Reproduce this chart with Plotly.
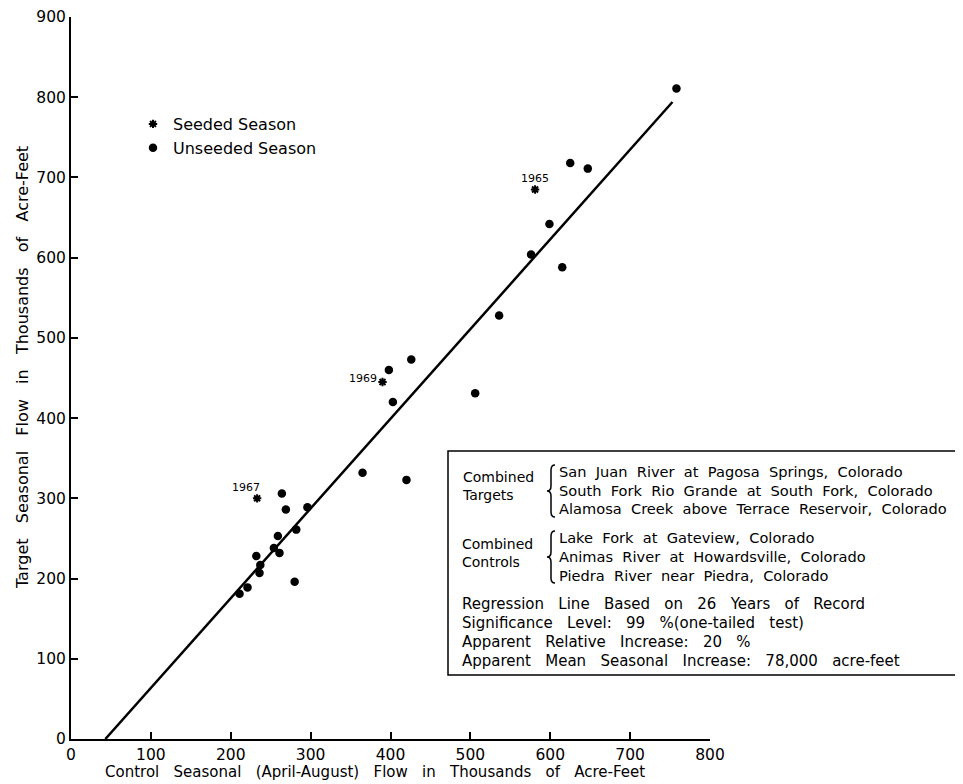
import plotly.graph_objects as go

# ---------------- data (thousands of acre-feet) ----------------
unseeded_x = [211, 221, 236, 237, 232, 254, 261, 259, 282, 269, 264, 296, 280,
              365, 420, 403, 398, 426, 506, 536, 576, 615, 599, 625, 647, 758]
unseeded_y = [181, 189, 207, 217, 228, 238, 232, 253, 261, 286, 306, 289, 196,
              332, 323, 420, 460, 473, 431, 528, 604, 588, 642, 718, 711, 811]

seeded_years = ["1967", "1969", "1965"]
seeded_x = [233, 390, 581]
seeded_y = [300, 445, 685]

regression_x = [43, 753]
regression_y = [0, 794]

x_ticks = [0, 100, 200, 300, 400, 500, 600, 700, 800]
y_ticks = [0, 100, 200, 300, 400, 500, 600, 700, 800, 900]

targets = ["San Juan River at Pagosa Springs, Colorado",
           "South Fork Rio Grande at South Fork, Colorado",
           "Alamosa Creek above Terrace Reservoir, Colorado"]
controls = ["Lake Fork at Gateview, Colorado",
            "Animas River at Howardsville, Colorado",
            "Piedra River near Piedra, Colorado"]
notes = ["Regression Line Based on 26 Years of Record",
         "Significance Level: 99 %(one-tailed test)",
         "Apparent Relative Increase: 20 %",
         "Apparent Mean Seasonal Increase: 78,000 acre-feet"]

# ---------------- layout helpers ----------------
OFF = 8                      # page body margin of the written html
W, H = 963 - OFF, 784 - OFF
L, T = 71 - OFF, 17 - OFF
R, B = 253, 45
PW, PH = W - L - R, H - T - B
FONT = "DejaVu Sans"


def px(x):
    """reference-pixel x -> paper coordinate"""
    return (x - OFF - L) / PW


def py(y):
    """reference-pixel y -> paper coordinate"""
    return (H - B - (y - OFF)) / PH


def spaced(s, extra):
    return s.replace(" ", "\u00a0" * extra + " ")


fig = go.Figure()

fig.add_trace(go.Scatter(
    x=regression_x, y=regression_y, mode="lines",
    line=dict(color="black", width=2.5), showlegend=False, hoverinfo="skip"))

fig.add_trace(go.Scatter(
    x=seeded_x, y=seeded_y, mode="markers", name="Seeded Season",
    marker=dict(symbol="asterisk", size=7, color="black",
                line=dict(color="black", width=2))))

fig.add_trace(go.Scatter(
    x=unseeded_x, y=unseeded_y, mode="markers", name="Unseeded Season",
    marker=dict(symbol="circle", size=8.5, color="black")))

annotations = []
year_pos = {"1967": dict(xanchor="center", yanchor="middle", xshift=-11, yshift=11),
            "1969": dict(xanchor="right", yanchor="middle", xshift=-4, yshift=4),
            "1965": dict(xanchor="center", yanchor="middle", xshift=0, yshift=11)}
for yr, xv, yv in zip(seeded_years, seeded_x, seeded_y):
    annotations.append(dict(x=xv, y=yv, xref="x", yref="y", text=yr, showarrow=False,
                            font=dict(family=FONT, size=11, color="black"),
                            **year_pos[yr]))

# axis titles
annotations.append(dict(x=px(375), y=py(772), xref="paper", yref="paper",
                        text=spaced("Control Seasonal (April-August) Flow in Thousands of Acre-Feet", 2),
                        showarrow=False, xanchor="center", yanchor="middle",
                        font=dict(family=FONT, size=15, color="black")))
annotations.append(dict(x=px(22), y=py(368), xref="paper", yref="paper",
                        text=spaced("Target Seasonal Flow in Thousands of Acre-Feet", 2),
                        showarrow=False, xanchor="center", yanchor="middle", textangle=-90,
                        font=dict(family=FONT, size=16, color="black")))

box_font = dict(family=FONT, size=15, color="black")
list_font = dict(family=FONT, size=14.6, color="black")
head_font = dict(family=FONT, size=14, color="black")
annotations.append(dict(x=px(460), y=py(486), xref="paper", yref="paper",
                        text="Combined<br>Targets", showarrow=False, align="left",
                        xanchor="left", yanchor="middle", font=head_font))
annotations.append(dict(x=px(460), y=py(553), xref="paper", yref="paper",
                        text="Combined<br>Controls", showarrow=False, align="left",
                        xanchor="left", yanchor="middle", font=head_font))
for i, t in enumerate(targets):
    annotations.append(dict(x=px(557), y=py(471 + 19 * i), xref="paper", yref="paper",
                            text=spaced(t, 1), showarrow=False, xanchor="left",
                            yanchor="middle", font=list_font))
for i, t in enumerate(controls):
    annotations.append(dict(x=px(557), y=py(537 + 19 * i), xref="paper", yref="paper",
                            text=spaced(t, 1), showarrow=False, xanchor="left",
                            yanchor="middle", font=list_font))
for i, t in enumerate(notes):
    annotations.append(dict(x=px(460), y=py(604 + 19 * i), xref="paper", yref="paper",
                            text=spaced(t, 2), showarrow=False, xanchor="left",
                            yanchor="middle", font=box_font))


def brace_path(xr, yt, yb):
    xm = xr - 4
    xt = xr - 8
    ym = (yt + yb) / 2
    pts = [
        ("M", [(xr, yt)]),
        ("Q", [(xm, yt), (xm, yt + 5)]),
        ("L", [(xm, ym - 5)]),
        ("Q", [(xm, ym), (xt, ym)]),
        ("Q", [(xm, ym), (xm, ym + 5)]),
        ("L", [(xm, yb - 5)]),
        ("Q", [(xm, yb), (xr, yb)]),
    ]
    s = ""
    for cmd, ps in pts:
        s += cmd + " " + " ".join(f"{px(a):.5f},{py(b):.5f}" for a, b in ps) + " "
    return s.strip()


shapes = [
    dict(type="rect", xref="paper", yref="paper", x0=px(448), x1=px(961.5),
         y0=py(451), y1=py(675), line=dict(color="black", width=1.5)),
    dict(type="path", xref="paper", yref="paper", path=brace_path(555, 465, 517),
         line=dict(color="black", width=1.5)),
    dict(type="path", xref="paper", yref="paper", path=brace_path(555, 531, 583),
         line=dict(color="black", width=1.5)),
]

axis_common = dict(showgrid=False, zeroline=False, showline=True, linecolor="black",
                   linewidth=2, ticks="inside", ticklen=7, tickwidth=1.5,
                   tickcolor="black", tickfont=dict(family=FONT, size=15.5, color="black"),
                   mirror=False, automargin=False, ticklabeloverflow="allow")

fig.update_layout(
    width=W, height=H,
    margin=dict(l=L, r=R, t=T, b=B, pad=0, autoexpand=False),
    paper_bgcolor="white", plot_bgcolor="white",
    xaxis=dict(range=[0, 800], tickvals=x_ticks, ticktext=[str(v) for v in x_ticks],
               **axis_common),
    yaxis=dict(range=[0, 900], tickvals=y_ticks, ticktext=[str(v) for v in y_ticks],
               **axis_common),
    legend=dict(x=px(133), y=py(107), xanchor="left", yanchor="top",
                font=dict(family=FONT, size=16, color="black"),
                bgcolor="rgba(0,0,0,0)", borderwidth=0, tracegroupgap=0),
    annotations=annotations,
    shapes=shapes,
    showlegend=True,
)

fig.write_html("out.html")
